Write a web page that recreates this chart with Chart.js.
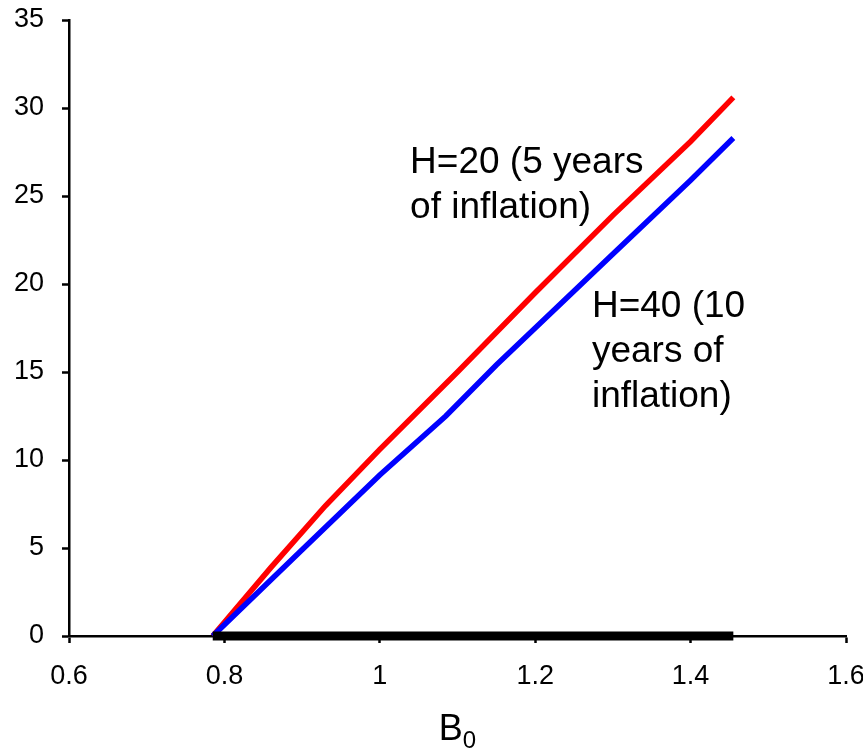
<!DOCTYPE html>
<html><head><meta charset="utf-8">
<script src="https://cdn.jsdelivr.net/npm/chart.js@4.4.0/dist/chart.umd.min.js"></script>
<style>html,body{margin:0;padding:0;background:#fff}#wrap{width:863px;height:752px}</style>
</head><body>
<div id="wrap"><canvas id="c" width="863" height="752"></canvas></div>
<script>
// ---- data ----
const redX  = [0.785, 0.86, 0.93, 1.0, 1.1, 1.2, 1.3, 1.4, 1.455];
const redY  = [0, 3.9, 7.4, 10.6, 15.0, 19.5, 23.9, 28.1, 30.6];
const blueX = [0.785, 0.9, 1.0, 1.085, 1.15, 1.2, 1.3, 1.4, 1.455];
const blueY = [0, 4.9, 9.15, 12.5, 15.4, 17.5, 21.7, 25.9, 28.3];
const baseX = [0.785, 1.455];
const baseY = [0, 0];
const xTicks = [0.6, 0.8, 1, 1.2, 1.4, 1.6];
const yTicks = [0, 5, 10, 15, 20, 25, 30, 35];
const redLabel  = ["H=20 (5 years", "of inflation)"];
const blueLabel = ["H=40 (10", "years of", "inflation)"];
const redLabelAt  = [1.039, 26.3];
const blueLabelAt = [1.273, 18.1];
const axisTitle = ["B", "0"];

const FONT = '"Liberation Sans", Arial, sans-serif';
const toXY = (xs, ys) => xs.map((v, i) => ({x: v, y: ys[i]}));

const textPlugin = {
  id: 'texts',
  afterDraw(chart) {
    const {ctx, scales: {x, y}, chartArea} = chart;
    ctx.save();
    ctx.fillStyle = '#000';
    ctx.textAlign = 'left';
    ctx.textBaseline = 'alphabetic';
    ctx.font = '37px ' + FONT;
    const lh = 45;
    const draw = (lines, pos) => {
      const px = x.getPixelForValue(pos[0]);
      const py = y.getPixelForValue(pos[1]);
      lines.forEach((t, i) => ctx.fillText(t, px, py + i * lh));
    };
    draw(redLabel, redLabelAt);
    draw(blueLabel, blueLabelAt);
    ctx.font = '36px ' + FONT;
    const bw = ctx.measureText(axisTitle[0]).width;
    ctx.font = '24px ' + FONT;
    const sw = ctx.measureText(axisTitle[1]).width;
    const cx = (chartArea.left + chartArea.right) / 2;
    const sx = cx - (bw + sw) / 2;
    ctx.font = '36px ' + FONT;
    ctx.fillText(axisTitle[0], sx, chartArea.bottom + 104);
    ctx.font = '24px ' + FONT;
    ctx.fillText(axisTitle[1], sx + bw, chartArea.bottom + 112);
    ctx.restore();
  }
};

new Chart(document.getElementById('c'), {
  type: 'line',
  data: {
    datasets: [
      {data: toXY(baseX, baseY), borderColor: '#000', borderWidth: 9, borderCapStyle: 'butt', pointRadius: 0, order: 0, clip: false},
      {data: toXY(blueX, blueY), borderColor: '#0000ff', borderWidth: 5.5, pointRadius: 0, order: 1, clip: false},
      {data: toXY(redX, redY), borderColor: '#ff0000', borderWidth: 5.5, pointRadius: 0, order: 2, clip: false}
    ]
  },
  options: {
    responsive: false,
    devicePixelRatio: 1,
    animation: false,
    layout: {padding: {top: 20, right: 17, left: 0, bottom: 0}},
    plugins: {legend: {display: false}, tooltip: {enabled: false}},
    elements: {line: {tension: 0, fill: false}},
    scales: {
      x: {
        type: 'linear', min: 0.6, max: 1.6,
        afterBuildTicks: s => { s.ticks = xTicks.map(v => ({value: v})); },
        afterFit: s => { s.height = 116; s.paddingLeft = 0; s.paddingRight = 0; },
        grid: {drawOnChartArea: false, drawTicks: true, tickLength: 7, tickColor: '#000', tickWidth: 2.5},
        border: {display: true, color: '#000', width: 2.5},
        ticks: {color: '#000', font: {family: FONT, size: 27}, padding: 17, maxRotation: 0, autoSkip: false,
                callback: v => String(+Number(v).toFixed(1))}
      },
      y: {
        type: 'linear', min: 0, max: 35,
        afterBuildTicks: s => { s.ticks = yTicks.map(v => ({value: v})); },
        afterFit: s => { s.width = 69; s.paddingTop = 0; s.paddingBottom = 0; },
        grid: {drawOnChartArea: false, drawTicks: true, tickLength: 7, tickColor: '#000', tickWidth: 2.5},
        border: {display: true, color: '#000', width: 2.5},
        ticks: {color: '#000', font: {family: FONT, size: 27}, padding: 18, autoSkip: false,
                callback: v => String(v)}
      }
    }
  },
  plugins: [textPlugin]
});
</script>
</body></html>
